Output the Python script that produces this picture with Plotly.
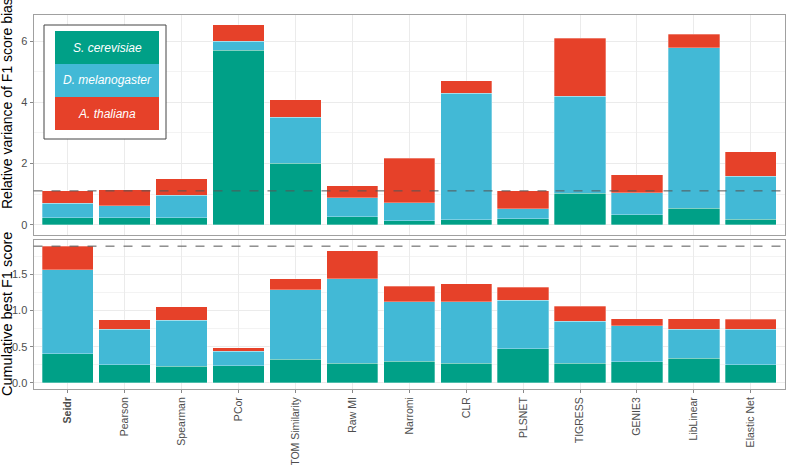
import plotly.graph_objects as go
from plotly.subplots import make_subplots

methods = ["Seidr", "Pearson", "Spearman", "PCor", "TOM Similarity", "Raw MI", "Narromi",
           "CLR", "PLSNET", "TIGRESS", "GENIE3", "LibLinear", "Elastic Net"]
tick_labels = ["<b>Seidr</b>"] + methods[1:]

species = ["S. cerevisiae", "D. melanogaster", "A. thaliana"]
colors = ["#00A087", "#42B9D6", "#E64129"]

# Relative variance of F1 score bias (stack segments)
var_sc = [0.24, 0.24, 0.24, 5.70, 2.01, 0.27, 0.14, 0.17, 0.20, 1.03, 0.33, 0.55, 0.19]
var_dm = [0.47, 0.38, 0.73, 0.30, 1.51, 0.61, 0.59, 4.12, 0.32, 3.17, 0.72, 5.23, 1.40]
var_at = [0.40, 0.52, 0.54, 0.54, 0.56, 0.39, 1.45, 0.42, 0.59, 1.89, 0.58, 0.45, 0.79]

# Cumulative best F1 score (stack segments)
f1_sc = [0.405, 0.25, 0.23, 0.235, 0.33, 0.27, 0.30, 0.27, 0.47, 0.27, 0.29, 0.34, 0.25]
f1_dm = [1.16, 0.495, 0.635, 0.205, 0.96, 1.17, 0.82, 0.85, 0.67, 0.58, 0.50, 0.405, 0.49]
f1_at = [0.325, 0.13, 0.19, 0.05, 0.15, 0.39, 0.215, 0.25, 0.18, 0.21, 0.10, 0.145, 0.14]

W, H = 787, 465
def px_x(p): return p / W
def px_y(p): return 1 - p / H

fig = make_subplots(rows=2, cols=1, shared_xaxes=False)

top = [var_sc, var_dm, var_at]
bot = [f1_sc, f1_dm, f1_at]
for i in range(3):
    fig.add_trace(go.Bar(x=methods, y=top[i], name=species[i], marker_color=colors[i],
                         marker_line=dict(color="rgba(255,255,255,0.5)", width=0.6),
                         width=0.9, showlegend=False), row=1, col=1)
    fig.add_trace(go.Bar(x=methods, y=bot[i], name=species[i], marker_color=colors[i],
                         marker_line=dict(color="rgba(255,255,255,0.5)", width=0.6),
                         width=0.9, showlegend=False), row=2, col=1)

seidr_var = var_sc[0] + var_dm[0] + var_at[0]
seidr_f1 = f1_sc[0] + f1_dm[0] + f1_at[0]

font = "Liberation Sans, Arial, sans-serif"
xl, xr = px_x(33.5), px_x(785)

common_x = dict(type="category", range=[-0.6, 12.6], showgrid=True, gridcolor="#EBEBEB",
                gridwidth=1, showline=True, mirror=True, linecolor="#A0A0A0", linewidth=1,
                zeroline=False, domain=[xl, xr])
fig.update_xaxes(**common_x, showticklabels=False, ticks="", row=1, col=1)
fig.update_xaxes(**common_x, showticklabels=True, ticks="outside", ticklen=3, tickcolor="#888888",
                 tickangle=-90, tickvals=methods, ticktext=tick_labels,
                 tickfont=dict(family=font, size=10.5, color="#4D4D4D"), row=2, col=1)

common_y = dict(showgrid=True, gridcolor="#EBEBEB", gridwidth=1, showline=True, mirror=True,
                linecolor="#A0A0A0", linewidth=1, zeroline=False, ticks="outside", ticklen=3,
                tickcolor="#888888", tickfont=dict(family=font, size=11, color="#4D4D4D"),
                automargin=False)
fig.update_yaxes(**common_y, range=[-0.33, 6.85], tickvals=[0, 2, 4, 6],
                 minor=dict(showgrid=True, gridcolor="#F3F3F3", tickvals=[1, 3, 5], ticks=""),
                 domain=[px_y(235), px_y(15)], row=1, col=1)
fig.update_yaxes(**common_y, range=[-0.083, 1.975], tickvals=[0, 0.5, 1.0, 1.5],
                 ticktext=["0.0", "0.5", "1.0", "1.5"],
                 minor=dict(showgrid=True, gridcolor="#F3F3F3", tickvals=[0.25, 0.75, 1.25, 1.75], ticks=""),
                 domain=[px_y(389), px_y(240)], row=2, col=1)

# dashed reference lines at Seidr totals
fig.add_shape(type="line", xref="x domain", yref="y", x0=0, x1=1, y0=seidr_var, y1=seidr_var,
              line=dict(color="#555555", width=1, dash="dash"))
fig.add_shape(type="line", xref="x2 domain", yref="y2", x0=0, x1=1, y0=seidr_f1, y1=seidr_f1,
              line=dict(color="#555555", width=1, dash="dash"))

# legend box
fig.add_shape(type="rect", xref="paper", yref="paper", x0=px_x(44), x1=px_x(166),
              y0=px_y(139), y1=px_y(25), line=dict(color="#444444", width=1), fillcolor="white",
              layer="above")
key_tops = [31, 64, 97]
for i in range(3):
    fig.add_shape(type="rect", xref="paper", yref="paper", x0=px_x(55), x1=px_x(159),
                  y0=px_y(key_tops[i] + 33), y1=px_y(key_tops[i]), line=dict(width=0),
                  fillcolor=colors[i], layer="above")
    fig.add_annotation(xref="paper", yref="paper", x=px_x(107), y=px_y(key_tops[i] + 16.5),
                       text="<i>" + species[i] + "</i>", showarrow=False,
                       font=dict(family=font, size=12, color="white"),
                       xanchor="center", yanchor="middle")

# axis titles
fig.add_annotation(xref="paper", yref="paper", x=px_x(7), y=px_y(104),
                   text="Relative variance of F1 score bias", textangle=-90, showarrow=False,
                   font=dict(family=font, size=14, color="black"), xanchor="center", yanchor="middle")
fig.add_annotation(xref="paper", yref="paper", x=px_x(7), y=px_y(314),
                   text="Cumulative best F1 score", textangle=-90, showarrow=False,
                   font=dict(family=font, size=14.5, color="black"), xanchor="center", yanchor="middle")

fig.update_layout(width=W, height=H, margin=dict(l=0, r=0, t=0, b=0), barmode="stack",
                  bargap=0.1, plot_bgcolor="white", paper_bgcolor="white",
                  font=dict(family=font))

fig.write_html("out.html", config={"displayModeBar": False},
               post_script="document.body.style.margin='0';")
